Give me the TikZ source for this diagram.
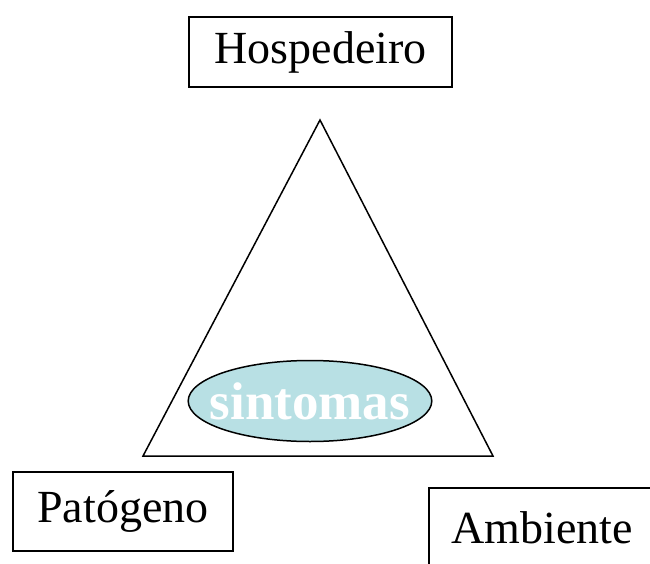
\documentclass[tikz,border=0pt]{standalone}
\usepackage{fontspec}
\setmainfont{Liberation Serif}
\usepackage{tikz}
\usetikzlibrary{positioning, calc, shapes.geometric}
\definecolor{sintomasfill}{RGB}{184,224,228}

\begin{document}
\begin{tikzpicture}[x=1pt,y=-1pt,line width=1.5pt,
			box node/.style={rectangle,draw,font=\fontsize{46}{50}\selectfont,inner sep=0pt},
			oval node/.style={ellipse,draw,fill=sintomasfill,text=white,inner xsep=-14pt,inner ysep=0pt,
				minimum width=241pt,minimum height=81pt,font=\fontsize{53}{56}\selectfont\bfseries}]
			
			\useasboundingbox (0,0) rectangle (650,564);
			\clip (0,0) rectangle (650,564);
			
			\node[box node,minimum width=263pt,minimum height=70pt] (host) at (320.5,52) {Hospedeiro};
			\node[box node,minimum width=220pt,minimum height=79pt] (pat) at (123,511.5) {Patógeno};
			\node[box node,minimum width=226pt,minimum height=79pt] (amb) at (542,527.5) {Ambiente};
			
			\coordinate (top) at (320,120);
			\coordinate (left) at (143,456);
			\coordinate (right) at (493,456);
			\draw[line join=miter] (top) -- (left) -- (right) -- cycle;
			
			\node[oval node] (sint) at (310,401) {sintomas};
		\end{tikzpicture}
\end{document}
